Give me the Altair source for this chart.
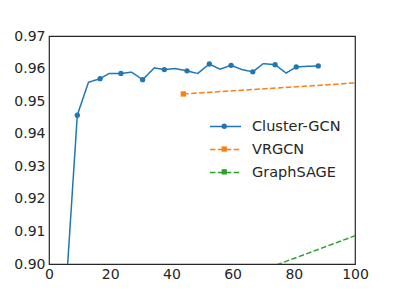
import altair as alt
import pandas as pd

# Cluster-GCN curve (every other vertex carries a marker)
gcn_x = [2.0, 5.65, 9.25, 12.9, 16.7, 19.7, 23.5, 27.0, 30.6, 34.4, 37.7, 41.2,
         45.1, 48.6, 52.4, 55.9, 59.5, 63.0, 66.6, 70.0, 73.9, 77.5, 80.8, 84.4, 88.0]
gcn_y = [0.850, 0.8935, 0.9457, 0.9558, 0.9569, 0.9585, 0.9585, 0.9589, 0.9566, 0.9602,
         0.9597, 0.9600, 0.9593, 0.9585, 0.9614, 0.9598, 0.9610, 0.9597, 0.9590, 0.9615,
         0.9612, 0.9586, 0.9605, 0.9607, 0.9608]
gcn_marker = [1, 0, 1, 0, 1, 0, 1, 0, 1, 0, 1, 0, 1, 0, 1, 0, 1, 0, 1, 0, 1, 0, 1, 0, 1]

vr_x = [43.9, 112.0]
vr_y = [0.9522, 0.9563]

gs_x = [55.0, 115.0]
gs_y = [0.8930, 0.9139]

models = ["Cluster-GCN", "VRGCN", "GraphSAGE"]
colors = ["#1f77b4", "#ff7f0e", "#2ca02c"]
dashes = [[1, 0], [5.5, 2.4], [5.5, 2.4]]
shapes = ["circle", "square", "square"]

rows = []
for i, (x, y) in enumerate(zip(gcn_x, gcn_y)):
    rows.append({"model": "Cluster-GCN", "x": x, "y": y, "order": i, "marker": gcn_marker[i]})
for i, (x, y) in enumerate(zip(vr_x, vr_y)):
    rows.append({"model": "VRGCN", "x": x, "y": y, "order": i, "marker": 1})
for i, (x, y) in enumerate(zip(gs_x, gs_y)):
    rows.append({"model": "GraphSAGE", "x": x, "y": y, "order": i, "marker": 1})
df = pd.DataFrame(rows)

font = "DejaVu Sans"
txt = "#262626"

xenc = alt.X("x:Q", scale=alt.Scale(domain=[0, 100], nice=False),
             axis=alt.Axis(values=[0, 20, 40, 60, 80, 100], title=None, grid=False,
                           ticks=False, labelPadding=3, labelFontSize=14, labelFlush=False,
                           labelFont=font, labelColor=txt, domain=False))
yenc = alt.Y("y:Q", scale=alt.Scale(domain=[0.90, 0.97], nice=False, zero=False),
             axis=alt.Axis(values=[0.90, 0.91, 0.92, 0.93, 0.94, 0.95, 0.96, 0.97],
                           format=".2f", title=None, grid=False, ticks=False,
                           labelPadding=4, labelFontSize=14, labelFont=font, labelFlush=False,
                           labelColor=txt, domain=False))

ln_legend = alt.Legend(title=None, orient="none", legendX=160, legendY=74,
                       symbolType="stroke", symbolSize=961,
                       symbolStrokeWidth=1.5, labelFontSize=14.5,
                       labelFont=font, labelColor=txt, labelOffset=10,
                       rowPadding=-10, padding=0)

lines = alt.Chart(df).mark_line(clip=True, strokeWidth=1.5).encode(
    x=xenc, y=yenc, order="order:Q",
    stroke=alt.Stroke("model:N", scale=alt.Scale(domain=models, range=colors), legend=ln_legend),
    strokeDash=alt.StrokeDash("model:N", scale=alt.Scale(domain=models, range=dashes),
                              legend=ln_legend),
)

mk_legend = alt.Legend(title=None, orient="none", legendX=168, legendY=83,
                       symbolSize=28, labelFontSize=14.5, labelExpr="''",
                       rowPadding=7.8, padding=0, symbolStrokeWidth=0)

points = alt.Chart(df).transform_filter(alt.datum.marker == 1).mark_point(
    clip=True, filled=True, size=28, opacity=1).encode(
    x=xenc, y=yenc,
    color=alt.Color("model:N", scale=alt.Scale(domain=models, range=colors), legend=mk_legend),
    shape=alt.Shape("model:N", scale=alt.Scale(domain=models, range=shapes), legend=mk_legend),
)

chart = alt.layer(lines, points).resolve_scale(
    stroke="independent", strokeDash="independent", color="independent", shape="independent"
).properties(
    width=306, height=228,
    autosize=alt.AutoSizeParams(type="none"),
    padding={"left": 41, "top": 28, "right": 32, "bottom": 24},
).configure(background="white").configure_view(stroke=txt, strokeWidth=1.2)

chart.save("out.html", embed_options={"renderer": "svg", "actions": False})
